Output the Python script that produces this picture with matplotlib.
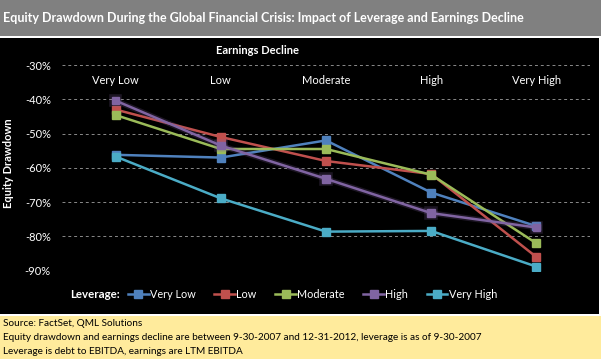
import matplotlib
matplotlib.use("Agg")
import matplotlib.pyplot as plt
from matplotlib.patches import Rectangle
import matplotlib.patheffects as pe

plt.rcParams['font.family'] = ['Lato', 'DejaVu Sans']

categories = ["Very Low", "Low", "Moderate", "High", "Very High"]
series_names = ["Very Low", "Low", "Moderate", "High", "Very High"]
vals_very_low = [-56.2, -57.0, -52.0, -67.2, -77.0]
vals_low = [-43.0, -51.0, -58.0, -61.8, -86.0]
vals_moderate = [-44.6, -54.5, -54.5, -62.0, -82.0]
vals_high = [-40.4, -53.5, -63.2, -73.2, -77.4]
vals_very_high = [-56.7, -68.9, -78.6, -78.4, -88.8]
series_values = [vals_very_low, vals_low, vals_moderate, vals_high, vals_very_high]
colors = ["#4F81BD", "#C0504D", "#9BBB59", "#8064A2", "#4BACC6"]
yticks = [-30, -40, -50, -60, -70, -80, -90]

W, H = 601, 359
fig = plt.figure(figsize=(W / 100, H / 100), dpi=100)
fig.patch.set_facecolor("white")

def fx(px):
    return px / W

def fy(py):
    return 1 - py / H

# background panels
for rect in [
    Rectangle((0, fy(36)), 1, 36 / H, facecolor="#808080"),
    Rectangle((0, fy(314)), fx(599), (314 - 38) / H, facecolor="black"),
    Rectangle((0, 0), 1, (H - 316) / H, facecolor="#FFEB9C"),
]:
    rect.set_transform(fig.transFigure)
    rect.set_edgecolor("none")
    rect.set_zorder(-10)
    fig.patches.append(rect)

fig.text(fx(3), fy(18), "Equity Drawdown During the Global Financial Crisis: Impact of Leverage and Earnings Decline",
         color="white", fontsize=9.0, fontweight="bold", va="center", ha="left")

ax = fig.add_axes([fx(62), fy(270.7), fx(590 - 62), (270.7 - 65) / H])
ax.set_zorder(5)
ax.set_facecolor("none")
ax.set_xlim(-0.51, 4.51)
ax.set_ylim(-90, -30)
for s in ax.spines.values():
    s.set_visible(False)
ax.set_yticks(yticks)
ax.set_yticklabels([f"{v}%" for v in yticks], color="white", fontsize=8)
ax.tick_params(axis="y", length=0, pad=8)
ax.set_xticks([])
ax.grid(axis="y", color="#8a8a8a", linestyle=(0, (3, 3)), linewidth=0.7)
ax.set_axisbelow(True)

x = list(range(len(categories)))
for i, c in enumerate(categories):
    ax.text(i, 0.927, c, transform=ax.get_xaxis_transform(), color="white",
            fontsize=8, ha="center", va="center")

for name, vals, col in zip(series_names, series_values, colors):
    kw = {}
    if name == "High":
        kw["path_effects"] = [pe.Stroke(linewidth=4, foreground=col, alpha=0.22), pe.Normal()]
    ax.plot(x, vals, color=col, linewidth=1.8, marker="s", markersize=5.5,
            markeredgecolor=col, label=name, zorder=3, **kw)

fig.text(fx(258), fy(50), "Earnings Decline", color="white", fontsize=8,
         fontweight="bold", ha="center", va="center")
fig.text(fx(9), fy(163), "Equity Drawdown", color="white", fontsize=8,
         fontweight="bold", ha="center", va="center", rotation=90)

fig.text(fx(70), fy(294), "Leverage:", color="white", fontsize=8.3,
         fontweight="bold", ha="left", va="center")
leg_handles = []
for col in colors:
    h, = ax.plot([], [], color=col, linewidth=1.8, marker="s", markersize=5.5,
                 markeredgecolor=col)
    leg_handles.append(h)
leg = fig.legend(handles=leg_handles, labels=series_names, ncol=5,
                 loc="center left", bbox_to_anchor=(fx(128), fy(294)),
                 frameon=False, fontsize=7.8, handlelength=1.9, handletextpad=0.1,
                 columnspacing=1.75, borderaxespad=0, borderpad=0)
for t in leg.get_texts():
    t.set_color("white")

footer = ["Source: FactSet, QML Solutions",
          "Equity drawdown and earnings decline are between 9-30-2007 and 12-31-2012, leverage is as of 9-30-2007",
          "Leverage is debt to EBITDA, earnings are LTM EBITDA"]
for j, line in enumerate(footer):
    fig.text(fx(3), fy(323.5 + 14.2 * j), line, color="black", fontsize=7.2,
             ha="left", va="center")

fig.savefig("out.png", dpi=100, facecolor=fig.get_facecolor())
